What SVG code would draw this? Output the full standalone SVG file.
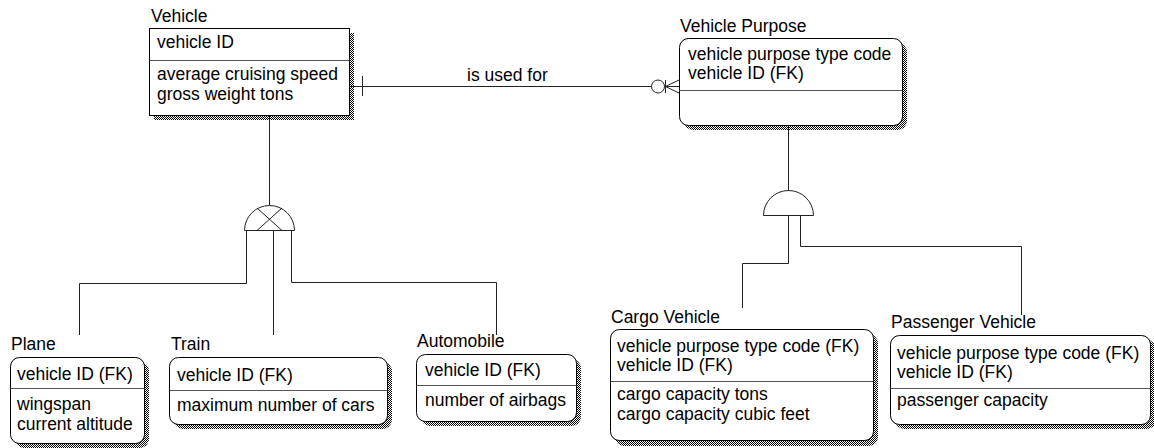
<svg xmlns="http://www.w3.org/2000/svg" width="1154" height="448" viewBox="0 0 1154 448">
  <style>
    text { font-family: "Liberation Sans", Arial, sans-serif; font-size: 17.5px; fill: #000; }
    .box { fill: #fff; stroke: #000; stroke-width: 1; }
    .shadow { fill: url(#stipple); stroke: none; }
    .div { stroke: #555; stroke-width: 1; }
    .ln { fill: none; stroke: #222; stroke-width: 1; }
  </style>
  <defs>
    <pattern id="stipple" width="2" height="2" patternUnits="userSpaceOnUse">
      <rect x="0" y="0" width="1" height="1" fill="#000"/>
      <rect x="1" y="1" width="1" height="1" fill="#000"/>
    </pattern>
  </defs>
  <rect width="1154" height="448" fill="#fff"/>

  <!-- relationships and subtype clusters -->
  <g id="connectors">
    <!-- Vehicle is used for Vehicle Purpose -->
    <line class="ln" x1="349" y1="86.5" x2="679" y2="86.5"/>
    <line class="ln" x1="362.5" y1="76" x2="362.5" y2="96"/>
    <circle cx="658" cy="86.5" r="6.5" fill="#fff" stroke="#222"/>
    <line class="ln" x1="665.5" y1="80" x2="665.5" y2="93"/>
    <path class="ln" d="M679,80 L665.5,86.5 L679,93"/>
    <text x="467" y="81">is used for</text>

    <!-- Vehicle subtype cluster (exclusive) -->
    <line class="ln" x1="269.5" y1="115" x2="269.5" y2="205"/>
    <path class="ln" d="M244.5,230.5 A25,25 0 0 1 294.5,230.5 Z"/>
    <line class="ln" x1="257" y1="208" x2="282" y2="230.5"/>
    <line class="ln" x1="282" y1="208" x2="257" y2="230.5"/>
    <polyline class="ln" points="246.5,230.5 246.5,283.5 79.5,283.5 79.5,335"/>
    <line class="ln" x1="273.5" y1="230.5" x2="273.5" y2="335"/>
    <polyline class="ln" points="291.5,230.5 291.5,282.5 496.5,282.5 496.5,335"/>

    <!-- Vehicle Purpose subtype cluster -->
    <line class="ln" x1="788.5" y1="125" x2="788.5" y2="190.5"/>
    <path class="ln" d="M763.5,215.5 A25,25 0 0 1 813.5,215.5 Z"/>
    <polyline class="ln" points="788.5,215.5 788.5,263.5 742.5,263.5 742.5,308"/>
    <polyline class="ln" points="800.5,215.5 800.5,246.5 1021.5,246.5 1021.5,315"/>
  </g>

  <g id="vehicle">
    <text x="151" y="22">Vehicle</text>
    <rect class="shadow" x="154" y="33" width="200" height="87"/>
    <rect class="box" x="149.5" y="28.5" width="200" height="87"/>
    <line class="div" x1="149.5" y1="60.5" x2="349.5" y2="60.5"/>
    <text x="157" y="48">vehicle ID</text>
    <text x="157" y="80">average cruising speed</text>
    <text x="157" y="100">gross weight tons</text>
  </g>

  <g id="vehicle-purpose">
    <text x="680" y="32">Vehicle Purpose</text>
    <rect class="shadow" x="684" y="43" width="223" height="87" rx="9"/>
    <rect class="box" x="679.5" y="38.5" width="223" height="87" rx="9"/>
    <line class="div" x1="679.5" y1="90.5" x2="902.5" y2="90.5"/>
    <text x="688" y="60">vehicle purpose type code</text>
    <text x="688" y="79">vehicle ID (FK)</text>
  </g>

  <g id="plane">
    <text x="11" y="350">Plane</text>
    <rect class="shadow" x="15" y="362" width="134" height="86" rx="9"/>
    <rect class="box" x="10.5" y="357.5" width="134" height="86" rx="9"/>
    <line class="div" x1="10.5" y1="388.5" x2="144.5" y2="388.5"/>
    <text x="17" y="380">vehicle ID (FK)</text>
    <text x="17" y="410">wingspan</text>
    <text x="17" y="430">current altitude</text>
  </g>

  <g id="train">
    <text x="171" y="350">Train</text>
    <rect class="shadow" x="174" y="362" width="218" height="67" rx="9"/>
    <rect class="box" x="169.5" y="357.5" width="218" height="67" rx="9"/>
    <line class="div" x1="169.5" y1="390.5" x2="387.5" y2="390.5"/>
    <text x="177" y="381">vehicle ID (FK)</text>
    <text x="177" y="411">maximum number of cars</text>
  </g>

  <g id="automobile">
    <text x="417" y="347">Automobile</text>
    <rect class="shadow" x="421" y="359" width="160" height="67" rx="9"/>
    <rect class="box" x="416.5" y="354.5" width="160" height="67" rx="9"/>
    <line class="div" x1="416.5" y1="385.5" x2="576.5" y2="385.5"/>
    <text x="425" y="376">vehicle ID (FK)</text>
    <text x="425" y="406">number of airbags</text>
  </g>

  <g id="cargo-vehicle">
    <text x="611" y="323">Cargo Vehicle</text>
    <rect class="shadow" x="615" y="334" width="263" height="112" rx="9"/>
    <rect class="box" x="610.5" y="329.5" width="263" height="111" rx="9"/>
    <line class="div" x1="610.5" y1="381.5" x2="873.5" y2="381.5"/>
    <text x="617" y="352">vehicle purpose type code (FK)</text>
    <text x="617" y="371">vehicle ID (FK)</text>
    <text x="617" y="400">cargo capacity tons</text>
    <text x="617" y="420">cargo capacity cubic feet</text>
  </g>

  <g id="passenger-vehicle">
    <text x="891" y="328">Passenger Vehicle</text>
    <rect class="shadow" x="895" y="340" width="261" height="89" rx="9"/>
    <rect class="box" x="890.5" y="335.5" width="260" height="89" rx="9"/>
    <line class="div" x1="890.5" y1="388.5" x2="1150.5" y2="388.5"/>
    <text x="897" y="359">vehicle purpose type code (FK)</text>
    <text x="897" y="378">vehicle ID (FK)</text>
    <text x="897" y="406">passenger capacity</text>
  </g>
</svg>
